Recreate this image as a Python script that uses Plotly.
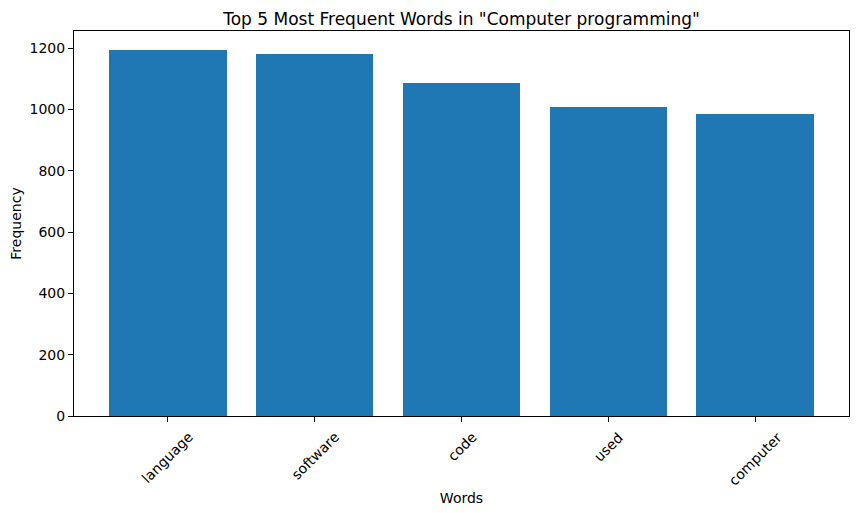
import plotly.graph_objects as go

words = ["language", "software", "code", "used", "computer"]
counts = [1195, 1181, 1087, 1008, 985]
y_ticks = [0, 200, 400, 600, 800, 1000, 1200]

fig = go.Figure(go.Bar(x=list(range(len(words))), y=counts, marker_color="#1f77b4",
                       marker_line_width=0, width=0.8))

font = dict(family="DejaVu Sans", size=14, color="black")
axis_common = dict(showline=True, linecolor="black", linewidth=1, mirror=True,
                   ticks="outside", ticklen=5, tickcolor="black", showgrid=False,
                   zeroline=False, tickfont=font, automargin=False)

L, R, T, B = 74, 10, 31, 97
fig.update_layout(
    width=859, height=513,
    margin=dict(l=L, r=R, t=T, b=B),
    paper_bgcolor="white", plot_bgcolor="white",
    showlegend=False, bargap=0,
    title=dict(text='Top 5 Most Frequent Words in "Computer programming"',
               x=(L + 859 - R) / 2 / 859, xanchor="center", y=1 - 19 / 513, yanchor="middle",
               font=dict(family="DejaVu Sans", size=17, color="black")),
    xaxis=dict(axis_common, range=[-0.64, 4.64], tickmode="array",
               tickvals=list(range(len(words))), ticktext=[""] * len(words),
               title=dict(text="Words", font=font, standoff=69)),
    yaxis=dict(axis_common, range=[0, 1256], tickmode="array", tickvals=y_ticks,
               title=dict(text="Frequency", font=font, standoff=4)),
)

for i, w in enumerate(words):
    fig.add_annotation(x=i, xref="x", y=0, yref="paper", text=w, textangle=-45,
                       showarrow=False, xanchor="center", yanchor="top", yshift=-10,
                       font=font)

fig.write_html("out.html")
